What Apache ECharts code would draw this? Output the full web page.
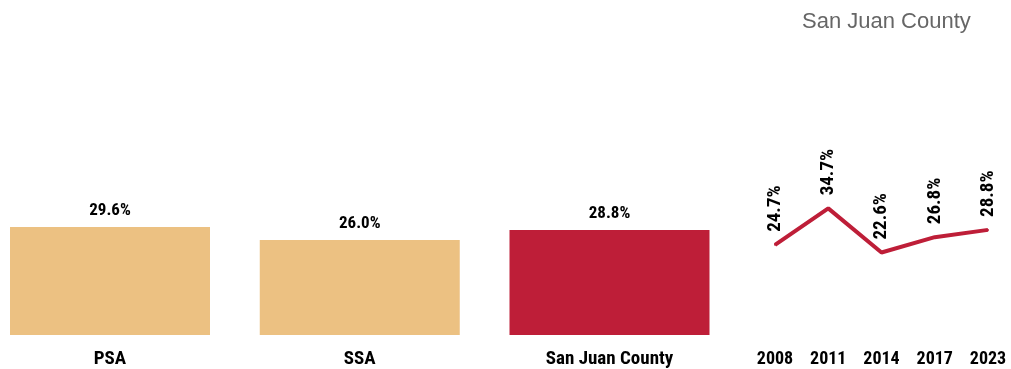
<!DOCTYPE html>
<html><head><meta charset="utf-8">
<script src="https://cdn.jsdelivr.net/npm/echarts@6/dist/echarts.min.js"></script>
<style>html,body{margin:0;padding:0;background:#fff}#c{width:1011px;height:369px}</style>
</head><body><div id="c"></div>
<script>
const barCategories = ['PSA', 'SSA', 'San Juan County'];
const barValues = [29.6, 26.0, 28.8];
const barColors = ['#ECC182', '#ECC182', '#BE1E38'];
const years = ['2008', '2011', '2014', '2017', '2023'];
const trendValues = [24.7, 34.7, 22.6, 26.8, 28.8];
const titleText = 'San Juan County';

const NARROW = "'Roboto Condensed', 'Liberation Sans Narrow', 'Arial Narrow', sans-serif";
const chart = echarts.init(document.getElementById('c'));
chart.setOption({
  animation: false,
  title: { text: titleText, left: 797, top: 6,
    textStyle: { fontFamily: "'Liberation Sans', Arial, sans-serif", fontWeight: 'normal', fontSize: 22, color: '#666666' } },
  grid: [
    { left: 110, width: 499.5, top: 116, bottom: 34 },
    { left: 775, width: 213, top: 116, bottom: 34 }
  ],
  xAxis: [
    { gridIndex: 0, type: 'category', data: barCategories, boundaryGap: false,
      axisLine: { show: false }, axisTick: { show: false },
      axisLabel: { margin: 15, fontFamily: NARROW, fontWeight: 'bold', fontSize: 19, color: '#000' } },
    { gridIndex: 1, type: 'category', data: years, boundaryGap: false,
      axisLine: { show: false }, axisTick: { show: false },
      axisLabel: { margin: 15, fontFamily: NARROW, fontWeight: 'bold', fontSize: 18, color: '#000' } }
  ],
  yAxis: [
    { gridIndex: 0, type: 'value', min: 0, max: 60, show: false },
    { gridIndex: 1, type: 'value', min: 0, max: 60, show: false }
  ],
  series: [
    { type: 'bar', xAxisIndex: 0, yAxisIndex: 0, barWidth: 200,
      data: barValues.map((v, i) => ({ value: v, itemStyle: { color: barColors[i] } })),
      label: { show: true, position: 'top', distance: 8, formatter: p => p.value.toFixed(1) + '%',
        fontFamily: NARROW, fontWeight: 'bold', fontSize: 17, color: '#000' } },
    { type: 'line', xAxisIndex: 1, yAxisIndex: 1, data: trendValues,
      symbol: 'circle', symbolSize: 2, showSymbol: true,
      itemStyle: { color: '#BE1E38' },
      lineStyle: { color: '#BE1E38', width: 4 },
      label: { show: true, position: 'top', distance: 12, rotate: 90, align: 'left', verticalAlign: 'middle',
        formatter: p => p.value.toFixed(1) + '%',
        fontFamily: NARROW, fontWeight: 'bold', fontSize: 19, color: '#000' } }
  ]
});
</script></body></html>
